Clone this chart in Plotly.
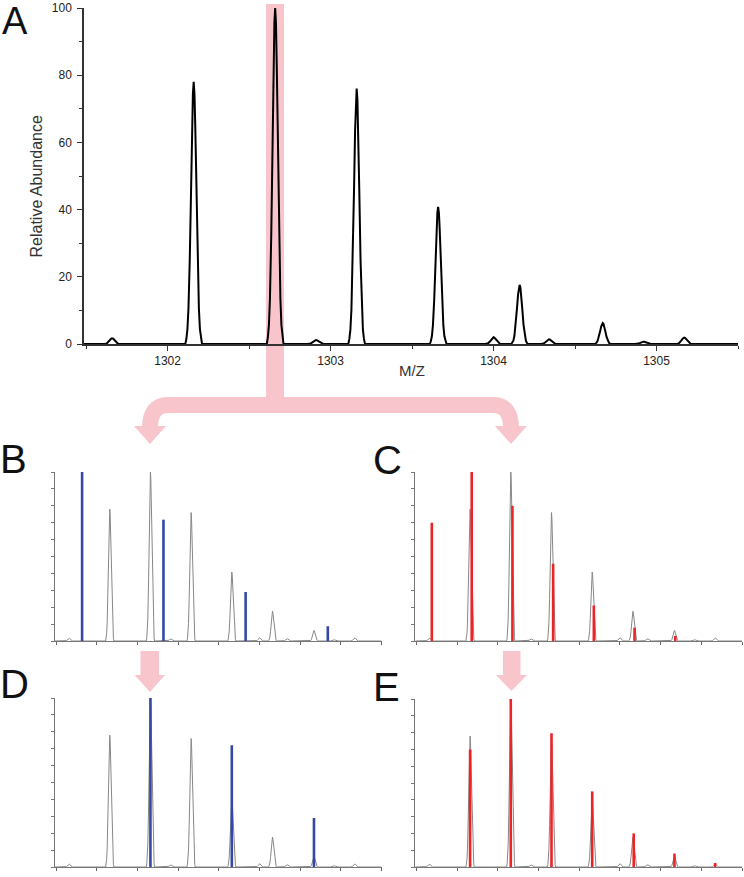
import plotly.graph_objects as go
import math

# ---------------- data ----------------
# Observed isotope envelope (panel A, relative abundance %)
peak_mz = [1301.66, 1302.16, 1302.66, 1302.91, 1303.16, 1303.66, 1304.00, 1304.16, 1304.34, 1304.67, 1304.92, 1305.17]
peak_int = [1.7, 78.0, 100.0, 1.2, 76.0, 40.8, 2.0, 17.6, 1.4, 6.2, 0.7, 1.9]

# Panel B: theoretical pattern (blue sticks, mismatched)
b_mz = [1301.82, 1302.82, 1303.83, 1304.84]
b_int = [100.0, 71.8, 29.0, 8.7]
# Panel C: theoretical pattern (red sticks, mismatched)
c_mz = [1301.69, 1302.18, 1302.68, 1303.18, 1303.68, 1304.18, 1304.68]
c_int = [70.0, 100.0, 80.0, 45.7, 21.0, 7.9, 3.0]
# Panel D: theoretical pattern (blue sticks, aligned)
d_mz = [1302.66, 1303.66, 1304.67]
d_int = [100.0, 72.0, 29.0]
# Panel E: theoretical pattern (red sticks, aligned)
e_mz = [1302.16, 1302.66, 1303.16, 1303.66, 1304.17, 1304.67, 1305.17]
e_int = [70.0, 100.0, 79.6, 45.0, 20.0, 8.0, 2.4]

x_ticks_A = [1302, 1303, 1304, 1305]
x_tick_text_A = ["1302", "1303", "1304", "1305"]
y_ticks_A = [0, 20, 40, 60, 80, 100]

# ---------------- style ----------------
W, H = 744, 877
XR = [1301.487, 1305.5]
SIGMA = 0.016           # peak profile width (style)
KERNEL = [-2.8, -2.4, -2, -1.5, -1, -0.6, -0.3, 0, 0.3, 0.6, 1, 1.5, 2, 2.4, 2.8]
PINK = "rgb(248,197,205)"
BLUE = "rgb(52,72,165)"
RED = "rgb(236,36,40)"
GRAY = "rgb(135,135,135)"
FONT = "Liberation Sans, Arial, Helvetica, sans-serif"


def fx(p):
    return p / W


def fy(p):
    return 1 - p / H


def profile(mz, inten):
    xs, ys = [XR[0]], [0.0]
    for c, h in sorted(zip(mz, inten)):
        xs.append(c - 3.2 * SIGMA)
        ys.append(0.0)
        for k in KERNEL:
            xs.append(c + k * SIGMA)
            ys.append(h * math.exp(-0.5 * k * k))
        xs.append(c + 3.2 * SIGMA)
        ys.append(0.0)
    xs.append(XR[1])
    ys.append(0.0)
    return xs, ys


def sticks(mz, inten):
    xs, ys = [], []
    for c, h in zip(mz, inten):
        xs += [c, c, None]
        ys += [0, h, None]
    return xs, ys


fig = go.Figure()

px_, py_ = profile(peak_mz, peak_int)
fig.add_trace(go.Scatter(x=px_, y=py_, mode="lines", line=dict(color="black", width=2),
                         xaxis="x", yaxis="y", showlegend=False, hoverinfo="skip"))

panels = [("2", b_mz, b_int, BLUE), ("3", c_mz, c_int, RED),
          ("4", d_mz, d_int, BLUE), ("5", e_mz, e_int, RED)]
for n, mz, it, col in panels:
    fig.add_trace(go.Scatter(x=px_, y=py_, mode="lines", line=dict(color=GRAY, width=1),
                             xaxis="x" + n, yaxis="y" + n, showlegend=False, hoverinfo="skip"))
    sx, sy = sticks(mz, it)
    fig.add_trace(go.Scatter(x=sx, y=sy, mode="lines", line=dict(color=col, width=2.6),
                             xaxis="x" + n, yaxis="y" + n, showlegend=False, hoverinfo="skip"))

# ---------------- axes ----------------
fig.update_layout(
    xaxis=dict(domain=[fx(84), fx(738)], range=XR, anchor="y",
               tickvals=x_ticks_A, ticktext=x_tick_text_A, ticks="outside", ticklen=5,
               tickcolor="#333", tickwidth=1, showline=True, linecolor="#333", linewidth=1.5,
               showgrid=False, zeroline=False, tickfont=dict(size=12, color="#222", family=FONT),
               minor=dict(tick0=1301.5, dtick=1, ticks="outside", ticklen=3, tickcolor="#333"),
               automargin=False),
    yaxis=dict(domain=[fy(344), fy(8)], range=[0, 100], anchor="x",
               tickvals=y_ticks_A, ticks="outside", ticklen=5, tickcolor="#333",
               showline=True, linecolor="#333", linewidth=1.5, showgrid=False, zeroline=False,
               tickfont=dict(size=12, color="#222", family=FONT), ticklabelstandoff=3,
               minor=dict(tick0=10, dtick=20, ticks="outside", ticklen=3, tickcolor="#333"),
               automargin=False),
)

small_domains = {
    "2": ([55, 381.5], [641, 472]),
    "3": ([415.3, 742], [641, 472]),
    "4": ([55, 381.5], [867, 698]),
    "5": ([415.3, 742], [867, 699]),
}
for n, (dx, dy) in small_domains.items():
    fig.layout["xaxis" + n] = dict(domain=[fx(dx[0]), fx(dx[1])], range=XR, anchor="y" + n,
                                   tick0=1302, dtick=0.5, ticks="outside", ticklen=3,
                                   tickcolor="#666", showticklabels=False, showline=True,
                                   linecolor="#777", linewidth=1, showgrid=False, zeroline=False,
                                   automargin=False)
    fig.layout["yaxis" + n] = dict(domain=[fy(dy[0]), fy(dy[1])], range=[0, 100], anchor="x" + n,
                                   tick0=0, dtick=10, ticks="outside", ticklen=3,
                                   tickcolor="#777", showticklabels=False, showline=True,
                                   linecolor="#777", linewidth=1, showgrid=False, zeroline=False,
                                   automargin=False)

# ---------------- pink highlight / arrows ----------------
shapes = []
# highlight band + stem
shapes.append(dict(type="rect", xref="paper", yref="paper", x0=fx(266), x1=fx(284), y0=fy(405), y1=fy(4),
                   fillcolor=PINK, line=dict(width=0), layer="below"))
# bracket
shapes.append(dict(type="path", xref="paper", yref="paper", layer="below",
                   path=f"M {fx(275)} {fy(405)} L {fx(168)} {fy(405)} Q {fx(150)} {fy(405)} {fx(150)} {fy(428)}",
                   line=dict(color=PINK, width=16)))
shapes.append(dict(type="path", xref="paper", yref="paper", layer="below",
                   path=f"M {fx(275)} {fy(405)} L {fx(493)} {fy(405)} Q {fx(511)} {fy(405)} {fx(511)} {fy(428)}",
                   line=dict(color=PINK, width=16)))


def tri(xl, xr, ytop, xt, yt):
    return dict(type="path", xref="paper", yref="paper", layer="below",
                path=f"M {fx(xl)} {fy(ytop)} L {fx(xr)} {fy(ytop)} L {fx(xt)} {fy(yt)} Z",
                fillcolor=PINK, line=dict(width=0))


shapes.append(tri(134, 166, 426, 150, 444))
shapes.append(tri(495, 527, 426, 511, 444))
# down arrows to D and E
shapes.append(dict(type="rect", xref="paper", yref="paper", x0=fx(140.5), x1=fx(159), y0=fy(676), y1=fy(651),
                   fillcolor=PINK, line=dict(width=0), layer="below"))
shapes.append(tri(134.5, 165, 675, 150, 692))
shapes.append(dict(type="rect", xref="paper", yref="paper", x0=fx(503), x1=fx(520.5), y0=fy(676), y1=fy(651),
                   fillcolor=PINK, line=dict(width=0), layer="below"))
shapes.append(tri(496, 527, 675, 511.5, 691))
fig.update_layout(shapes=shapes)

# ---------------- text ----------------
ann = []


def label(txt, x, y, size, **kw):
    d = dict(text=txt, xref="paper", yref="paper", x=fx(x), y=fy(y), showarrow=False,
             font=dict(family=FONT, size=size, color="#111"), xanchor="center", yanchor="middle")
    d.update(kw)
    return d


ann.append(label("A", 14.5, 21, 38))
ann.append(label("B", 13.5, 459, 40))
ann.append(label("C", 387, 460, 40))
ann.append(label("D", 14, 684, 40))
ann.append(label("E", 386, 687, 40))
ann.append(label("M/Z", 412, 371, 15, font=dict(family=FONT, size=15, color="#333")))
ann.append(label("Relative Abundance", 35.5, 187, 16, textangle=-90,
                 font=dict(family=FONT, size=16, color="#333")))
fig.update_layout(annotations=ann)

fig.update_layout(width=W, height=H, margin=dict(l=0, r=0, t=0, b=0, autoexpand=False),
                  paper_bgcolor="white", plot_bgcolor="white", showlegend=False,
                  font=dict(family=FONT))

# remove the browser's default 8px page margin so the figure fills the window exactly
fig.write_html("out.html", config={"displayModeBar": False},
               post_script="document.body.style.margin='0';document.body.style.overflow='hidden';")
